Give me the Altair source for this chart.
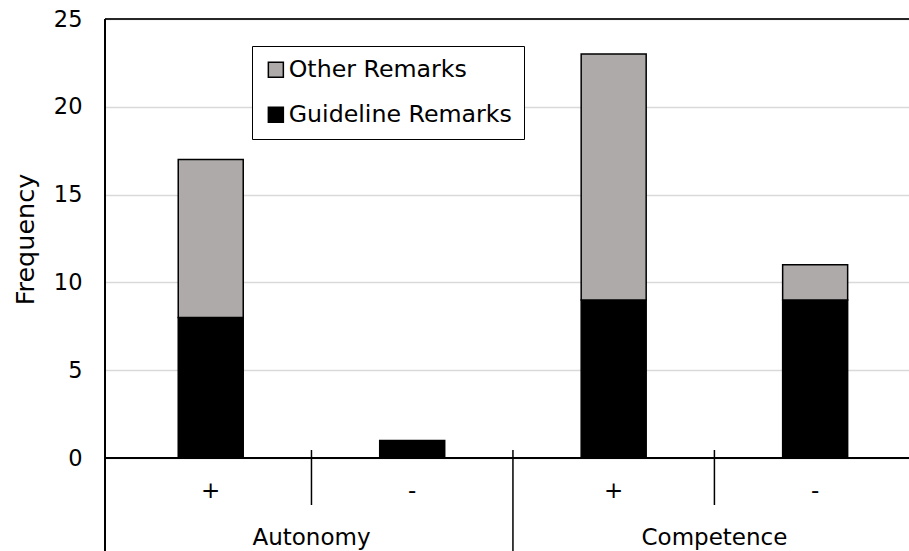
import altair as alt
import pandas as pd

# Categories (two-level axis) and the two stacked series
groups = ["Autonomy", "Autonomy", "Competence", "Competence"]
signs = ["+", "-", "+", "-"]
guideline_remarks = [8, 1, 9, 9]
other_remarks = [9, 0, 14, 2]

series_names = ["Other Remarks", "Guideline Remarks"]
series_colors = ["#aeaaaa", "#000000"]

FONT = "DejaVu Sans"
FS = 23

positions = list(range(len(signs)))

rows = []
for i, (g, s, gv, ov) in enumerate(zip(groups, signs, guideline_remarks, other_remarks)):
    rows.append({"pos": i, "group": g, "sign": s, "series": "Guideline Remarks", "value": gv, "order": 0})
    rows.append({"pos": i, "group": g, "sign": s, "series": "Other Remarks", "value": ov, "order": 1})
bars_df = pd.DataFrame(rows)

cats_df = pd.DataFrame({"pos": positions, "group": groups, "sign": signs})

# Boundaries between neighbouring categories; a change of group gets a long divider
bounds = []
for i in range(len(groups) - 1):
    bounds.append({"pos": i + 0.5, "long": groups[i] != groups[i + 1]})
bounds_df = pd.DataFrame(bounds)

x_scale = alt.Scale(domain=[-0.5, 3.441], nice=False, zero=False)
y_scale = alt.Scale(domain=[0, 25], nice=False)

bars = alt.Chart(bars_df).transform_filter("datum.value > 0").mark_bar(
    size=65, stroke="black", strokeWidth=1.5
).encode(
    x=alt.X("pos:Q", scale=x_scale, axis=None),
    y=alt.Y(
        "value:Q",
        stack="zero",
        scale=y_scale,
        axis=alt.Axis(
            values=[0, 5, 10, 15, 20, 25],
            labelFont=FONT,
            labelFontSize=22.5,
            labelColor="black",
            labelPadding=23,
            ticks=False,
            domain=False,
            grid=True,
            gridColor="#d9d9d9",
            gridWidth=1.5,
            title="Frequency",
            titleFont=FONT,
            titleFontSize=25.5,
            titleFontWeight="normal",
            titleColor="black",
            titleAngle=270,
            titleX=-72,
            titleY=220,
            titleAlign="center",
            titleBaseline="alphabetic",
        ),
    ),
    color=alt.Color(
        "series:N",
        scale=alt.Scale(domain=series_names, range=series_colors),
        legend=alt.Legend(
            orient="none",
            legendX=147,
            legendY=27,
            title=None,
            labelFont=FONT,
            labelFontSize=23.7,
            labelColor="black",
            labelLimit=0,
            labelOffset=1,
            symbolType="square",
            symbolSize=225,
            symbolStrokeColor="black",
            symbolStrokeWidth=1.5,
            rowPadding=20,
            padding=12,
            strokeColor="black",
            fillColor="white",
        ),
    ),
    order=alt.Order("order:Q"),
)

# Plot frame: top edge, zero line and left edge
top_edge = alt.Chart(cats_df).mark_rule(color="#262626", strokeWidth=2).encode(y=alt.datum(25))
zero_line = alt.Chart(cats_df).mark_rule(color="black", strokeWidth=2).encode(y=alt.datum(0))
left_edge = alt.Chart(cats_df).mark_rule(color="black", strokeWidth=2).encode(
    x=alt.value(0), y=alt.value(0), y2=alt.value(532)
)

short_ticks = alt.Chart(bounds_df).transform_filter("!datum.long").mark_rule(
    color="black", strokeWidth=1.5
).encode(x=alt.X("pos:Q", scale=x_scale), y=alt.value(431), y2=alt.value(486))

long_ticks = alt.Chart(bounds_df).transform_filter("datum.long").mark_rule(
    color="black", strokeWidth=1.5
).encode(x=alt.X("pos:Q", scale=x_scale), y=alt.value(431), y2=alt.value(532))

sign_labels = alt.Chart(cats_df).mark_text(
    font=FONT, fontSize=FS, color="black", baseline="middle", align="center"
).encode(x=alt.X("pos:Q", scale=x_scale), y=alt.value(472), text="sign:N")

group_labels = alt.Chart(cats_df).transform_aggregate(
    mid="mean(pos)", groupby=["group"]
).mark_text(
    font=FONT, fontSize=FS, color="black", baseline="alphabetic", align="center"
).encode(x=alt.X("mid:Q", scale=x_scale), y=alt.value(526), text="group:N")

chart = alt.layer(
    bars, top_edge, zero_line, left_edge, short_ticks, long_ticks, sign_labels, group_labels
).properties(
    width=804,
    height=439,
    padding={"left": 105, "top": 19, "right": 0, "bottom": 93},
    autosize=alt.AutoSizeParams(type="none"),
    background="white",
).configure_view(stroke=None)

chart.save("out.html", embed_options={"renderer": "svg", "actions": False})
